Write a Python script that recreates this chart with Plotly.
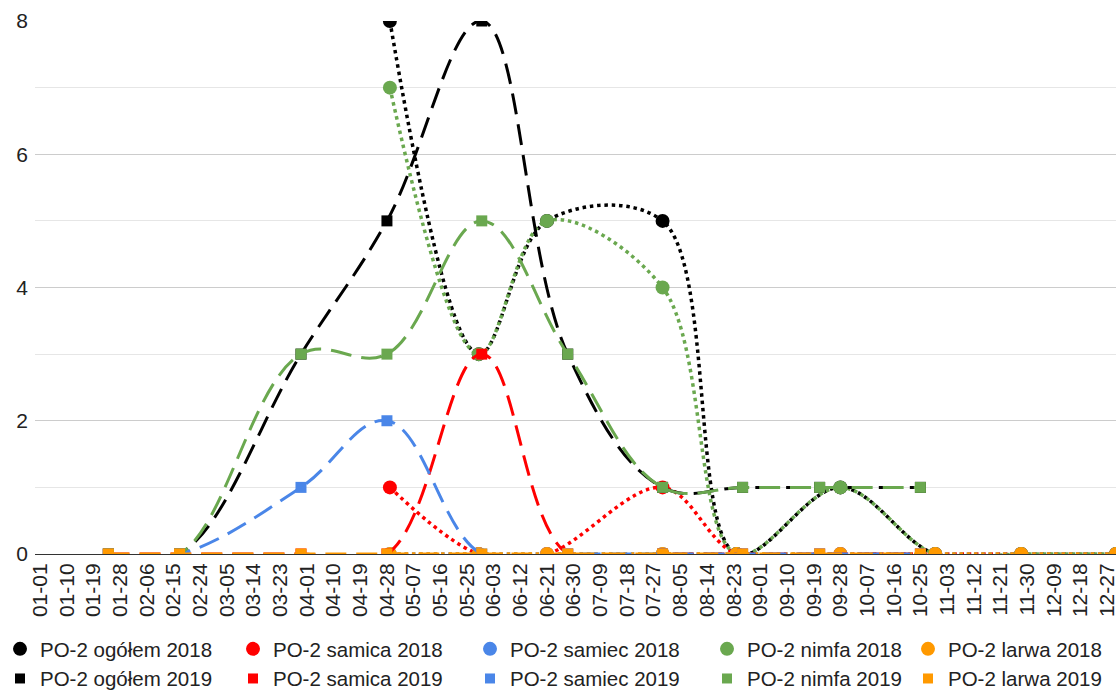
import plotly.graph_objects as go

# ---------------- data ----------------
# sampling dates (month-day), plotted on a common year axis
dates_2018 = ["04-29", "05-29", "06-21", "07-30", "08-24", "09-28", "10-30", "11-28", "12-30"]
ogolem_2018 = [8, 3, 5, 5, 0, 1, 0, 0, 0]
samica_2018 = [1, 0, 0, 1, 0, 0, 0, 0, 0]
samiec_2018 = [0, 0, 0, 0, 0, 0, 0, 0, 0]
nimfa_2018 = [7, 3, 5, 4, 0, 1, 0, 0, 0]
larwa_2018 = [0, 0, 0, 0, 0, 0, 0, 0, 0]

dates_2019 = ["01-24", "02-17", "03-30", "04-28", "05-30", "06-28", "07-30", "08-26", "09-21", "10-25"]
ogolem_2019 = [0, 0, 3, 5, 8, 3, 1, 1, 1, 1]
samica_2019 = [0, 0, 0, 0, 3, 0, 0, 0, 0, 0]
samiec_2019 = [0, 0, 1, 2, 0, 0, 0, 0, 0, 0]
nimfa_2019 = [0, 0, 3, 3, 5, 3, 1, 1, 1, 1]
larwa_2019 = [0, 0, 0, 0, 0, 0, 0, 0, 0, 0]

categories = ["ogółem", "samica", "samiec", "nimfa", "larwa"]
colors = ["#000000", "#ff0000", "#4a86e8", "#6aa84f", "#ff9900"]
series_2018 = [ogolem_2018, samica_2018, samiec_2018, nimfa_2018, larwa_2018]
series_2019 = [ogolem_2019, samica_2019, samiec_2019, nimfa_2019, larwa_2019]

BASE_YEAR = "2018-"
x18 = [BASE_YEAR + d for d in dates_2018]
x19 = [BASE_YEAR + d for d in dates_2019]

FONT = "Liberation Sans, Arial, sans-serif"
FS_TICK = 21
FS_LEG = 20.5
W, H = 1116, 691
ML, MR, MT, MB = 35, 0, 21, 137

fig = go.Figure()

# 2018 series (dotted, circles)
for cat, col, vals in zip(categories, colors, series_2018):
    fig.add_trace(go.Scatter(
        x=x18, y=vals, mode="lines+markers", name=f"PO-2 {cat} 2018",
        line=dict(color=col, width=3.5, dash="3.5px,3.8px", shape="spline", smoothing=1.0),
        marker=dict(symbol="circle", size=14, color=col),
        showlegend=False, hoverinfo="skip"))

# 2019 series (long dash, squares)
for cat, col, vals in zip(categories, colors, series_2019):
    fig.add_trace(go.Scatter(
        x=x19, y=vals, mode="lines+markers", name=f"PO-2 {cat} 2019",
        line=dict(color=col, width=3, dash="21px,10px", shape="spline", smoothing=1.1),
        marker=dict(symbol="square", size=11, color=col),
        showlegend=False, hoverinfo="skip"))

# legend entries: one legend per column (2018 above 2019)
col_sym_px = [20, 253, 490, 727, 928]
legends = {}
for i, (cat, col) in enumerate(zip(categories, colors)):
    key = "legend" if i == 0 else f"legend{i + 1}"
    fig.add_trace(go.Scatter(x=[None], y=[None], mode="markers", name=f"PO-2 {cat} 2018",
                             marker=dict(symbol="circle", size=14, color=col),
                             legend=key, legendgroup=f"g18_{i}", showlegend=True))
    fig.add_trace(go.Scatter(x=[None], y=[None], mode="markers", name=f"PO-2 {cat} 2019",
                             marker=dict(symbol="square", size=10, color=col),
                             legend=key, legendgroup=f"g19_{i}", showlegend=True))
    legends[key] = dict(
        xref="container", yref="container",
        x=(col_sym_px[i] - 20) / W, y=(H - 629) / H,
        xanchor="left", yanchor="top", orientation="v",
        font=dict(family=FONT, size=FS_LEG, color="#222222"),
        bgcolor="rgba(0,0,0,0)", borderwidth=0, traceorder="grouped",
        tracegroupgap=0,
        itemclick=False, itemdoubleclick=False)

fig.update_layout(
    width=W, height=H,
    margin=dict(l=ML, r=MR, t=MT, b=MB, pad=0, autoexpand=False),
    paper_bgcolor="white", plot_bgcolor="white",
    font=dict(family=FONT, size=FS_TICK, color="#222222"),
    showlegend=True,
    **legends,
)

fig.update_xaxes(
    type="date", automargin=False,
    range=["2017-12-30 06:00", "2018-12-30 00:00"],
    tickmode="linear", tick0="2018-01-01", dtick=9 * 86400000,
    tickformat="%m-%d", tickangle=-90,
    showgrid=False, zeroline=False,
    showline=True, linecolor="#333333", linewidth=1,
    ticks="", layer="below traces",
    ticklabeloverflow="allow",
    tickfont=dict(family=FONT, size=FS_TICK, color="#222222"),
)

fig.update_yaxes(
    automargin=False,
    range=[0, 8], tick0=0, dtick=2,
    showgrid=True, gridcolor="#cccccc", gridwidth=1,
    minor=dict(dtick=1, showgrid=True, gridcolor="#e6e6e6", gridwidth=1),
    zeroline=False, showline=False, ticks="",
    ticklabelstandoff=6,
    tickfont=dict(family=FONT, size=FS_TICK, color="#222222"),
)

fig.write_html("out.html")
